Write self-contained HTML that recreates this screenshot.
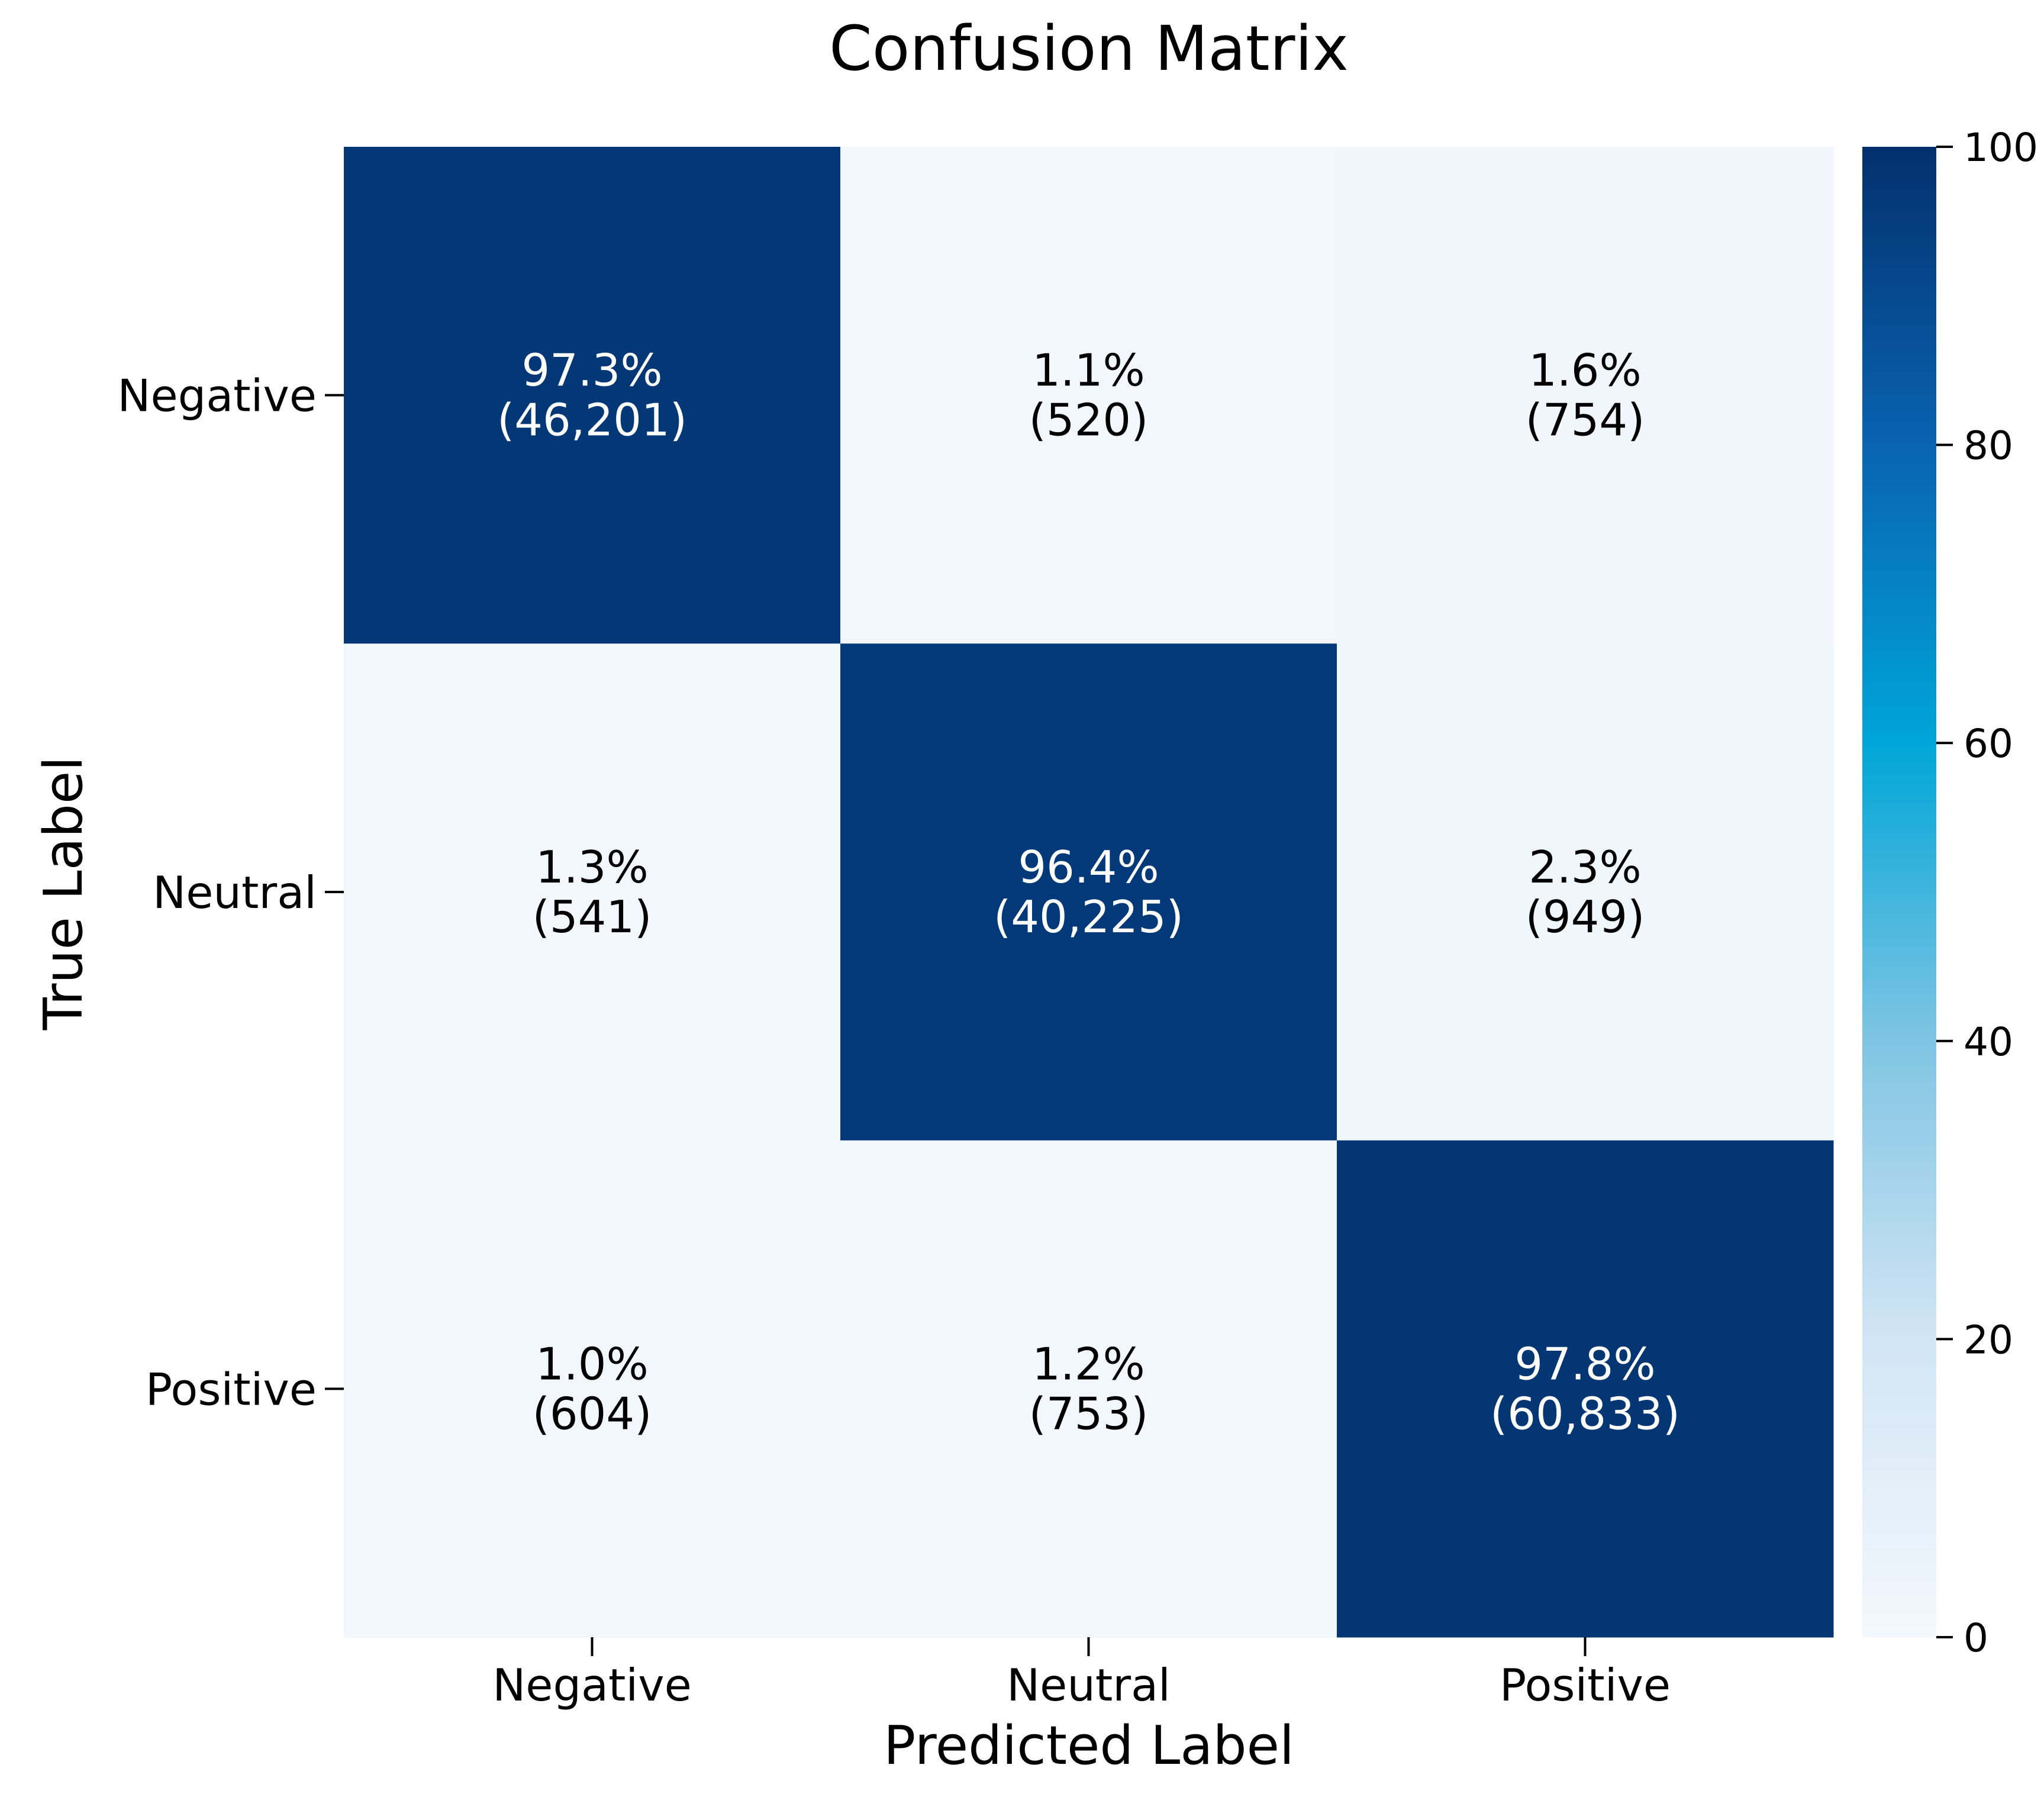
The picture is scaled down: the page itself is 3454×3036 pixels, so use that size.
<!DOCTYPE html>
<html><head><meta charset="utf-8"><style>
html,body{margin:0;padding:0;background:#fff}
svg{display:block;font-family:"DejaVu Sans","Liberation Sans",sans-serif}
</style></head><body>
<svg id="chart" width="3454" height="3036" viewBox="0 0 3454 3036" xmlns="http://www.w3.org/2000/svg">
<defs>
<linearGradient id="cbgrad" x1="0" y1="1" x2="0" y2="0">
<stop offset="0" stop-color="#f3f8fd"/>
<stop offset="0.2" stop-color="#d2e5f4"/>
<stop offset="0.4" stop-color="#7fc4e3"/>
<stop offset="0.6" stop-color="#00a6d7"/>
<stop offset="0.8" stop-color="#0963b0"/>
<stop offset="1" stop-color="#03306d"/>
</linearGradient>
</defs>
<text x="1840" y="118" text-anchor="middle" font-size="104" fill="#000">Confusion Matrix</text>
<g id="cells"></g>
<g id="axes"></g>
<rect x="3147" y="248" width="125" height="2518" fill="url(#cbgrad)"/>
<g id="cbticks"></g>
<text x="1840" y="2980" text-anchor="middle" font-size="90" fill="#000">Predicted Label</text>
<text transform="translate(138,1509) rotate(-90)" text-anchor="middle" font-size="90" fill="#000">True Label</text>
</svg>
<script>
const categories = ["Negative","Neutral","Positive"];
const percents = [[97.3,1.1,1.6],[1.3,96.4,2.3],[1.0,1.2,97.8]];
const counts = [["46,201","520","754"],["541","40,225","949"],["604","753","60,833"]];
const cbTicks = [0,20,40,60,80,100];

const NS="http://www.w3.org/2000/svg";
const X0=581,X1=3098,Y0=248,Y1=2766;
const n=categories.length;
const cw=(X1-X0)/n, ch=(Y1-Y0)/n;
const stops=[[0,[243,248,253]],[20,[210,229,244]],[40,[127,196,227]],[60,[0,166,215]],[80,[9,99,176]],[100,[3,48,109]]];
function color(v){
  for(let i=1;i<stops.length;i++){
    if(v<=stops[i][0]){
      const a=stops[i-1],b=stops[i],t=(v-a[0])/(b[0]-a[0]);
      const c=a[1].map((x,k)=>Math.round(x+(b[1][k]-x)*t));
      return `rgb(${c[0]},${c[1]},${c[2]})`;
    }
  }
  return "rgb(3,48,109)";
}
function el(tag,attrs,parent,text){
  const e=document.createElementNS(NS,tag);
  for(const k in attrs)e.setAttribute(k,attrs[k]);
  if(text!==undefined)e.textContent=text;
  parent.appendChild(e);return e;
}
const cells=document.getElementById('cells');
const axes=document.getElementById('axes');
for(let r=0;r<n;r++){
  for(let c=0;c<n;c++){
    const v=percents[r][c];
    const rect=el('rect',{x:X0+c*cw,y:Y0+r*ch,width:cw+0.5,height:ch+0.5,fill:color(v)},cells);
    
    
    const cx=X0+(c+0.5)*cw, cy=Y0+(r+0.5)*ch;
    const fill=v>50?"#fff":"#000";
    const t1=el('text',{x:cx,y:cy-42+26,'text-anchor':'middle','font-size':75,fill:fill},cells,v.toFixed(1)+"%");
    
    
    const t2=el('text',{x:cx,y:cy+42+26,'text-anchor':'middle','font-size':75,fill:fill},cells,"("+counts[r][c]+")");
    
    
  }
}
for(let i=0;i<n;i++){
  const cx=X0+(i+0.5)*cw, cy=Y0+(i+0.5)*ch;
  el('line',{x1:cx,y1:Y1,x2:cx,y2:Y1+32,stroke:'#000','stroke-width':4},axes);
  const xl=el('text',{x:cx,y:2873,'text-anchor':'middle','font-size':75,fill:'#000'},axes,categories[i]);
  
  
  el('line',{x1:X0-32,y1:cy,x2:X0,y2:cy,stroke:'#000','stroke-width':4},axes);
  const yl=el('text',{x:535,y:cy+27,'text-anchor':'end','font-size':75,fill:'#000'},axes,categories[i]);
  
  
}
const cb=document.getElementById('cbticks');
cbTicks.forEach(v=>{
  const y=Y1-(v/100)*(Y1-Y0);
  el('line',{x1:3272,y1:y,x2:3300,y2:y,stroke:'#000','stroke-width':4},cb);
  const t=el('text',{x:3318,y:y+24,'font-size':66,fill:'#000'},cb,String(v));
  
  
});
</script>
</body></html>
